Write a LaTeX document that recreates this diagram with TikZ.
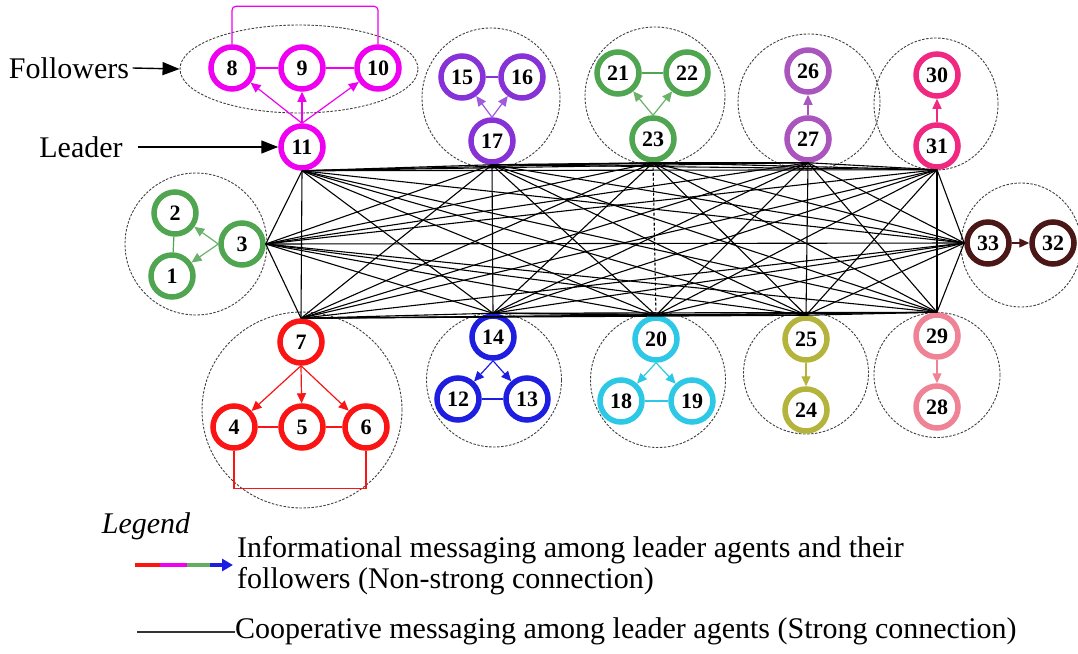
\documentclass[tikz,border=0pt]{standalone}
\usepackage{fontspec}
\setmainfont{Liberation Serif}
\usepackage{tikz}
\usetikzlibrary{arrows.meta,shapes.geometric,positioning}
\definecolor{agmag}{RGB}{240,0,240}
\definecolor{aggrn}{RGB}{80,165,80}
\definecolor{agpur}{RGB}{135,50,215}
\definecolor{agorc}{RGB}{170,85,190}
\definecolor{agdpk}{RGB}{240,40,130}
\definecolor{agbrn}{RGB}{75,22,22}
\definecolor{agred}{RGB}{250,20,20}
\definecolor{agblu}{RGB}{30,30,225}
\definecolor{agcyn}{RGB}{45,200,230}
\definecolor{agolv}{RGB}{180,180,60}
\definecolor{agpnk}{RGB}{240,130,150}

\begin{document}
\begin{tikzpicture}[x=1pt, y=-1pt,
  every node/.style={font=\fontsize{30}{31}\selectfont},
  agent/.style={circle, draw=#1, line width=5.5pt, fill=white,
                minimum size=42pt, inner sep=0pt,
                font=\fontsize{22}{22}\selectfont\bfseries},
  group/.style={ellipse, draw=black!75, dash pattern=on 2.5pt off 1.5pt,
                line width=0.9pt, inner sep=0pt},
  info/.style={-{Triangle[length=10pt, width=9pt]}, line width=1.2pt, draw=#1},
  tie/.style={line width=1.2pt, draw=#1},
  coop/.style={black, line width=1.1pt},
  pointer/.style={-{Triangle[length=17pt, width=13pt]}, line width=1.4pt, black},
]
\useasboundingbox (0,0) rectangle (1078,653);

%% Dashed group outlines
\node[group, minimum width=238pt, minimum height=88pt] (g11) at (299, 69) {};
\node[group, minimum width=142pt, minimum height=142pt] (g3)  at (196, 244) {};
\node[group, minimum width=138pt, minimum height=140pt] (g17) at (491, 98) {};
\node[group, minimum width=140pt, minimum height=138pt] (g23) at (655, 96) {};
\node[group, minimum width=142pt, minimum height=136pt] (g27) at (809, 102) {};
\node[group, minimum width=124pt, minimum height=132pt] (g31) at (936, 104) {};
\node[group, minimum width=120pt, minimum height=124pt] (g33) at (1021, 245) {};
\node[group, minimum width=200pt, minimum height=196pt] (g7)  at (302, 410) {};
\node[group, minimum width=135pt, minimum height=134pt] (g14) at (494, 380) {};
\node[group, minimum width=135pt, minimum height=135pt] (g20) at (658, 380) {};
\node[group, minimum width=125pt, minimum height=122pt] (g25) at (806, 373) {};
\node[group, minimum width=126pt, minimum height=125pt] (g29) at (937, 375) {};

%% Leader agents
\node[agent=agmag] (n11) at (302, 147) {11};
\node[agent=aggrn] (n3)  at (242, 244) {3};
\node[agent=agpur] (n17) at (492, 141) {17};
\node[agent=aggrn] (n23) at (653, 139) {23};
\node[agent=agorc] (n27) at (808, 139) {27};
\node[agent=agdpk] (n31) at (937, 146) {31};
\node[agent=agbrn] (n33) at (988, 243) {33};
\node[agent=agred] (n7)  at (301, 342) {7};
\node[agent=agblu] (n14) at (493, 337) {14};
\node[agent=agcyn] (n20) at (656, 339) {20};
\node[agent=agolv] (n25) at (806, 339) {25};
\node[agent=agpnk] (n29) at (937, 336) {29};

%% Follower agents
\node[agent=agmag] (n8)  at (232, 68) {8};
\node[agent=agmag] (n9)  at (302, 68) {9};
\node[agent=agmag] (n10) at (378, 68) {10};
\node[agent=aggrn] (n2)  at (175, 213) {2};
\node[agent=aggrn] (n1)  at (172, 276) {1};
\node[agent=agpur] (n15) at (462, 77) {15};
\node[agent=agpur] (n16) at (522, 77) {16};
\node[agent=aggrn] (n21) at (618, 73) {21};
\node[agent=aggrn] (n22) at (687, 73) {22};
\node[agent=agorc] (n26) at (808, 71) {26};
\node[agent=agdpk] (n30) at (937, 75) {30};
\node[agent=agbrn] (n32) at (1053, 243) {32};
\node[agent=agred] (n4)  at (234, 427) {4};
\node[agent=agred] (n5)  at (302, 427) {5};
\node[agent=agred] (n6)  at (366, 427) {6};
\node[agent=agblu] (n12) at (458, 399) {12};
\node[agent=agblu] (n13) at (527, 399) {13};
\node[agent=agcyn] (n18) at (621, 401) {18};
\node[agent=agcyn] (n19) at (692, 401) {19};
\node[agent=agolv] (n24) at (806, 410) {24};
\node[agent=agpnk] (n28) at (937, 407) {28};

%% Leader-to-follower messages
\foreach \f in {8,9,10} {
  \draw[info=agmag] (n11.north) -- (n\f);
}
\draw[info=aggrn!85] (n3.west) -- (n2);
\draw[info=aggrn!85] (n3.west) -- (n1);
\draw[info=agpur!80] (n17.north) -- (n15);
\draw[info=agpur!80] (n17.north) -- (n16);
\draw[info=aggrn!85] (n23.north) -- (n21);
\draw[info=aggrn!85] (n23.north) -- (n22);
\draw[info=agorc]    (n27) -- (n26);
\draw[info=agdpk]    (n31) -- (n30);
\draw[info=agbrn]    (n33) -- (n32);
\foreach \f in {4,5,6} {
  \draw[info=agred] (n7.south) -- (n\f);
}
\draw[info=agblu] (n14.south) -- (n12);
\draw[info=agblu] (n14.south) -- (n13);
\draw[info=agcyn] (n20.south) -- (n18);
\draw[info=agcyn] (n20.south) -- (n19);
\draw[info=agolv] (n25) -- (n24);
\draw[info=agpnk] (n29) -- (n28);

%% Follower-to-follower links
\draw[tie=agmag] (n8) -- (n9);
\draw[tie=agmag] (n9) -- (n10);
\draw[tie=agmag, rounded corners=4pt] (n8.north) -- ++(0,-38) -| (n10.north);
\draw[tie=aggrn] (n2) -- (n1);
\draw[tie=agpur] (n15) -- (n16);
\draw[tie=aggrn] (n21) -- (n22);
\draw[tie=agred] (n4) -- (n5);
\draw[tie=agred] (n5) -- (n6);
\draw[tie=agred] (n4.south) -- ++(0,38) -| (n6.south);
\draw[tie=agblu] (n12) -- (n13);
\draw[tie=agcyn] (n18) -- (n19);

%% Leader mesh (strong connection)
\foreach \n in {11,17,23,27,31} { \coordinate (L\n) at (n\n.south); }
\foreach \n in {7,14,20,25,29}   { \coordinate (L\n) at (n\n.north); }
\coordinate (L3)  at (n3.east);
\coordinate (L33) at (n33.west);
\foreach \a [count=\i] in {11,17,23,27,31,3,33,7,14,20,25,29} {
  \foreach \b [count=\j] in {11,17,23,27,31,3,33,7,14,20,25,29} {
    \ifnum\j>\i
      % 23--20 (product 460) is drawn dashed below
      \ifnum\numexpr\a*\b\relax=460 \else \draw[coop] (L\a) -- (L\b); \fi
    \fi
  }
}
\draw[coop, dash pattern=on 3pt off 2pt] (L23) -- (L20);

%% Labels
\node (fol)  at (69, 68)  {Followers};
\node (lead) at (81, 147) {Leader};
\draw[pointer] (fol.east) -- (g11.west);
\draw[pointer, shorten <=12pt] (lead.east) -- (n11.west);

%% Legend
\node[font=\fontsize{30}{31}\selectfont\itshape] (leg) at (146, 526) {Legend};
\coordinate (a0) at (135, 565);
\coordinate (a1) at (160, 565);
\coordinate (a2) at (187, 565);
\coordinate (a3) at (210, 565);
\coordinate (a4) at (233, 565);
\draw[agred, line width=4pt] (a0) -- (a1);
\draw[agmag, line width=4pt] (a1) -- (a2);
\draw[aggrn!90, line width=4pt] (a2) -- (a3);
\draw[agblu, line width=4pt, -{Triangle[length=11pt, width=12pt]}] (a3) -- (a4);
\node[anchor=north west, align=left, inner sep=0pt] (txt1) at (237, 536)
  {Informational messaging among leader agents and their\\
   followers (Non-strong connection)};
\coordinate (b0) at (137, 632);
\node[anchor=west, inner sep=0pt] (txt2) at (235, 631)
  {Cooperative messaging among leader agents (Strong connection)};
\draw[black!80, line width=1.3pt] (b0) -- (b0 -| txt2.west);

\end{tikzpicture}
\end{document}
